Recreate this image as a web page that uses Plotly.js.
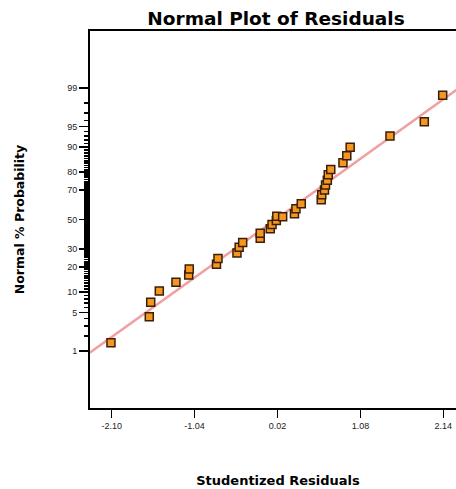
<!DOCTYPE html>
<html>
<head>
<meta charset="utf-8">
<script src="https://cdn.plot.ly/plotly-3.0.1.min.js"></script>
<style>
html,body{margin:0;padding:0;overflow:hidden;background:#fff;width:456px;height:489px;}
#chart{width:466px;height:489px;}
</style>
</head>
<body>
<div id="chart"></div>
<script>
// Studentized residuals (x) and their normal % probability (y)
const residuals = [-2.109,-1.619,-1.601,-1.491,-1.278,-1.115,-1.108,-0.760,-0.741,-0.498,
  -0.470,-0.425,-0.201,-0.201,-0.073,-0.050,0.005,0.011,0.086,0.237,
  0.256,0.324,0.579,0.586,0.621,0.634,0.657,0.669,0.701,0.857,
  0.906,0.949,1.458,1.897,2.132];
const probability = [1.47,4.30,7.18,10.3,13.4,16.3,19.1,21.5,24.6,27.7,
  31.2,34.3,37.0,40.4,43.5,46.5,49.3,52.3,52.0,54.1,
  57.5,60.9,63.6,66.9,69.9,72.9,75.6,78.6,81.2,84.2,
  87.0,89.9,93.0,95.8,98.59];
// reference line endpoints
const lineX = [-2.38, 2.31];
const lineP = [0.93, 98.9];
// axis ticks
const xTicks = [-2.10,-1.04,0.02,1.08,2.14];
const xTickText = ['-2.10','-1.04','0.02','1.08','2.14'];
const yTicks = [1,5,10,20,30,50,70,80,90,95,99];
const yMinor = [];
for (let p = 1; p <= 99; p++) yMinor.push(p);

function probit(p){
  const a=[-3.969683028665376e+01,2.209460984245205e+02,-2.759285104469687e+02,1.383577518672690e+02,-3.066479806614716e+01,2.506628277459239e+00];
  const b=[-5.447609879822406e+01,1.615858368580409e+02,-1.556989798598866e+02,6.680131188771972e+01,-1.328068155288572e+01];
  const c=[-7.784894002430293e-03,-3.223964580411365e-01,-2.400758277161838e+00,-2.549732539343734e+00,4.374664141464968e+00,2.938163982698783e+00];
  const d=[7.784695709041462e-03,3.224671290700398e-01,2.445134137142996e+00,3.754408661907416e+00];
  const pl=0.02425, ph=1-pl;
  let q,r;
  if(p<pl){q=Math.sqrt(-2*Math.log(p));return (((((c[0]*q+c[1])*q+c[2])*q+c[3])*q+c[4])*q+c[5])/((((d[0]*q+d[1])*q+d[2])*q+d[3])*q+1);}
  if(p<=ph){q=p-0.5;r=q*q;return (((((a[0]*r+a[1])*r+a[2])*r+a[3])*r+a[4])*r+a[5])*q/(((((b[0]*r+b[1])*r+b[2])*r+b[3])*r+b[4])*r+1);}
  q=Math.sqrt(-2*Math.log(1-p));return -(((((c[0]*q+c[1])*q+c[2])*q+c[3])*q+c[4])*q+c[5])/((((d[0]*q+d[1])*q+d[2])*q+d[3])*q+1);
}
const z = v => probit(v/100);
const yRange = [-3.33, 3.33];

const traces = [
  {
    x: lineX, y: lineP.map(z), mode:'lines', type:'scatter',
    line:{color:'#f0a0a0', width:2.5}, hoverinfo:'skip', showlegend:false
  },
  {
    x: residuals, y: probability.map(z), mode:'markers', type:'scatter',
    marker:{symbol:'square', size:8, color:'#f5961e', line:{color:'#3a1e0a', width:1.5}},
    text: probability.map(p=>p+'%'), showlegend:false
  },
  { // carrier for the minor-tick ruler axis
    x: [lineX[0]], y: [z(50)], yaxis:'y2', mode:'markers', type:'scatter',
    marker:{opacity:0, size:1}, hoverinfo:'skip', showlegend:false
  }
];

const tickFont = {family:'Liberation Sans, Arial, sans-serif', size:9, color:'#222'};
const layout = {
  width:466, height:489,
  margin:{l:90, r:0, t:31, b:81},
  paper_bgcolor:'#fff', plot_bgcolor:'#fff',
  title:{text:'Normal Plot of Residuals', x:276/466, xref:'container', xanchor:'center', y:1-19/489, yanchor:'middle',
    font:{family:'DejaVu Sans, sans-serif', size:18.5, color:'#000', weight:'bold'}},
  xaxis:{
    range:[-2.377, 2.430], showgrid:false, zeroline:false,
    showline:true, linecolor:'#000', linewidth:2, mirror:true,
    ticks:'outside', ticklen:8, tickwidth:1.5, tickcolor:'#000',
    tickmode:'array', tickvals:xTicks, ticktext:xTickText, tickfont:tickFont,
    title:{text:'Studentized Residuals', standoff:46,
      font:{family:'DejaVu Sans, sans-serif', size:13, color:'#000', weight:'bold'}}
  },
  yaxis:{
    range:yRange, showgrid:false, zeroline:false,
    showline:true, linecolor:'#000', linewidth:2, mirror:true,
    ticks:'outside', ticklen:9, tickwidth:1.5, tickcolor:'#000',
    tickmode:'array', tickvals:yTicks.map(z), ticktext:yTicks.map(String), tickfont:tickFont,
    title:{text:'Normal % Probability', standoff:40,
      font:{family:'DejaVu Sans, sans-serif', size:12.5, color:'#000', weight:'bold'}}
  },
  yaxis2:{
    range:yRange, overlaying:'y', side:'left', anchor:'x',
    showgrid:false, zeroline:false, showline:false,
    ticks:'outside', ticklen:5, tickwidth:1.6, tickcolor:'#000',
    tickmode:'array', tickvals:yMinor.map(z), showticklabels:false
  }
};

Plotly.newPlot('chart', traces, layout, {staticPlot:true, displayModeBar:false});
</script>
</body>
</html>
